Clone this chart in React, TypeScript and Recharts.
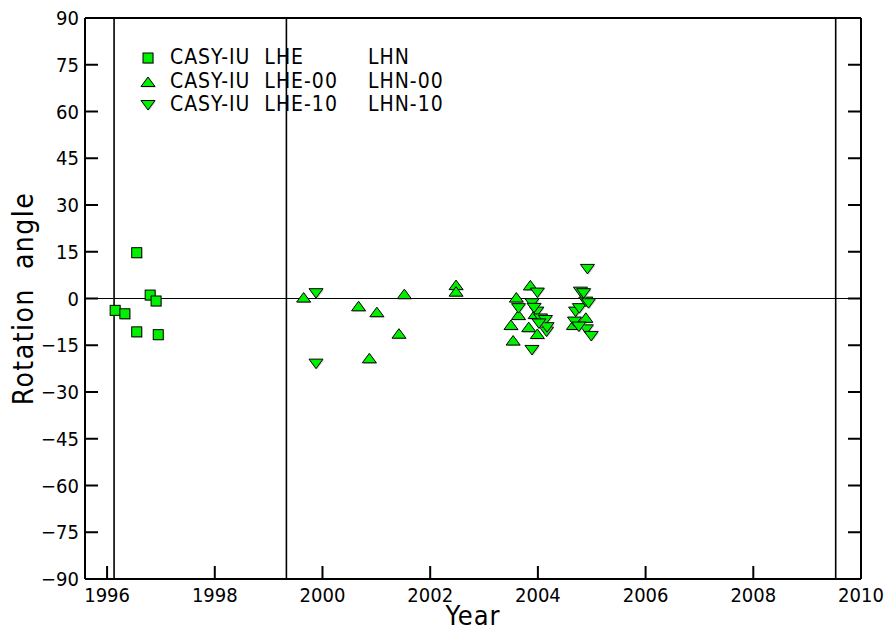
import {
  ScatterChart,
  Scatter,
  XAxis,
  YAxis,
  ReferenceLine,
  Legend,
} from 'recharts'

// station / sensor change dates (vertical lines)
const changeYears = [1996.13, 1999.33, 2009.53]

const xTicks = [1996, 1998, 2000, 2002, 2004, 2006, 2008, 2010]
const yTicks = [-90, -75, -60, -45, -30, -15, 0, 15, 30, 45, 60, 75, 90]

// CASY-IU LHE / LHN
const squareYears = [1996.15, 1996.33, 1996.55, 1996.55, 1996.8, 1996.91, 1996.95]
const squareAngles = [-3.8, -4.9, 14.7, -10.7, 1.1, -0.8, -11.6]

// CASY-IU LHE-00 / LHN-00
const upYears = [
  1999.65, 2000.67, 2000.87, 2001.01, 2001.42, 2001.52, 2002.48, 2002.48,
  2003.5, 2003.54, 2003.6, 2003.64, 2003.83, 2003.86, 2003.95, 2003.99,
  2004.66, 2004.89,
]
const upAngles = [
  0.3, -2.5, -19.2, -4.4, -11.3, 1.4, 4.3, 2.2,
  -8.5, -13.5, 0.3, -5.3, -9.2, 4.2, -5.0, -11.4,
  -8.5, -6.2,
]

// CASY-IU LHE-10 / LHN-10
const downYears = [
  1999.88, 1999.88,
  2003.64, 2003.89, 2003.89, 2003.98, 2003.99, 2004.05, 2004.14, 2004.16, 2004.17, 2004.02, 2003.93,
  2004.7, 2004.77, 2004.79, 2004.89, 2004.9, 2004.92, 2004.94, 2004.68, 2004.76, 2004.99, 2004.85,
]
const downAngles = [
  1.7, -20.9,
  -3.1, -1.5, -16.5, -4.2, 1.9, -6.4, -6.9, -10.6, -9.2, -8.0, -3.0,
  -4.2, -3.1, 2.2, -1.0, -9.9, 9.5, -1.5, -7.4, -9.0, -12.0, 1.7,
]

const zip = (xs: number[], ys: number[]) => xs.map((x, i) => ({ x, y: ys[i] }))

const GREEN = '#00f000'
const FONT = '"DejaVu Sans Condensed", "Liberation Sans", Arial, sans-serif'
const TICK_LEN = 13

const SquareShape = ({ cx, cy }: any) => (
  <g>
    <rect x={cx - 4} y={cy - 4} width={10} height={10} fill="#999" opacity={0.5} />
    <rect x={cx - 5} y={cy - 5} width={10} height={10} fill={GREEN} stroke="#000" strokeWidth={1} />
  </g>
)

const UpShape = ({ cx, cy }: any) => (
  <g>
    <polygon
      points={`${cx + 1},${cy - 4} ${cx + 8},${cy + 5.5} ${cx - 6},${cy + 5.5}`}
      fill="#999"
      opacity={0.5}
    />
    <polygon
      points={`${cx},${cy - 5} ${cx + 7},${cy + 4.5} ${cx - 7},${cy + 4.5}`}
      fill={GREEN}
      stroke="#000"
      strokeWidth={1}
    />
  </g>
)

const DownShape = ({ cx, cy }: any) => (
  <g>
    <polygon
      points={`${cx - 6},${cy - 3.5} ${cx + 8},${cy - 3.5} ${cx + 1},${cy + 6}`}
      fill="#999"
      opacity={0.5}
    />
    <polygon
      points={`${cx - 7},${cy - 4.5} ${cx + 7},${cy - 4.5} ${cx},${cy + 5}`}
      fill={GREEN}
      stroke="#000"
      strokeWidth={1}
    />
  </g>
)

const fmt = (v: number) => (v < 0 ? `\u2212${Math.abs(v)}` : `${v}`)

const BottomTick = ({ x, y, payload }: any) => (
  <g>
    <line x1={x} x2={x} y1={y} y2={y - TICK_LEN} stroke="#000" strokeWidth={2} />
    <text x={x} y={y + 23} textAnchor="middle" fontSize={20} fontFamily={FONT} fill="#000">
      {payload.value}
    </text>
  </g>
)

const TopTick = ({ x, y }: any) => (
  <line x1={x} x2={x} y1={y} y2={y + TICK_LEN} stroke="#000" strokeWidth={2} />
)

const LeftTick = ({ x, y, payload }: any) => (
  <g>
    <line x1={x} x2={x + TICK_LEN} y1={y} y2={y} stroke="#000" strokeWidth={2} />
    <text x={x - 6} y={y + 7} textAnchor="end" fontSize={20} fontFamily={FONT} fill="#000">
      {fmt(payload.value)}
    </text>
  </g>
)

const RightTick = ({ x, y }: any) => (
  <line x1={x} x2={x - TICK_LEN} y1={y} y2={y} stroke="#000" strokeWidth={2} />
)

const legendRows = [
  { shape: 'square', left: 'CASY-IU  LHE', right: 'LHN' },
  { shape: 'up', left: 'CASY-IU  LHE-00', right: 'LHN-00' },
  { shape: 'down', left: 'CASY-IU  LHE-10', right: 'LHN-10' },
]

const LegendIcon = ({ shape }: { shape: string }) => (
  <svg width={18} height={14} style={{ position: 'absolute', left: 0, top: 5 }}>
    {shape === 'square' && <SquareShape cx={8} cy={7} />}
    {shape === 'up' && <UpShape cx={8} cy={7} />}
    {shape === 'down' && <DownShape cx={8} cy={7} />}
  </svg>
)

const renderLegend = () => (
  <div style={{ position: 'relative', width: 340, fontFamily: FONT, fontSize: 21, color: '#000' }}>
    {legendRows.map((r) => (
      <div key={r.shape} style={{ position: 'relative', height: 23.5, whiteSpace: 'pre' }}>
        <LegendIcon shape={r.shape} />
        <span style={{ position: 'absolute', left: 30, top: -1, letterSpacing: 1 }}>{r.left}</span>
        <span style={{ position: 'absolute', left: 228, top: -1, letterSpacing: 1 }}>{r.right}</span>
      </div>
    ))}
  </div>
)

export default function App() {
  return (
    <div style={{ position: 'absolute', left: 0, top: 0, background: '#fff' }}>
      <ScatterChart width={892} height={633} margin={{ top: 17, right: 30, bottom: 0, left: 0 }}>
        <XAxis
          type="number"
          dataKey="x"
          domain={[1995.59, 2010]}
          ticks={xTicks}
          interval={0}
          allowDataOverflow
          height={54}
          tickSize={0}
          tickMargin={0}
          tickLine={false}
          axisLine={{ stroke: '#000', strokeWidth: 2 }}
          tick={<BottomTick />}
          label={{
            content: ({ viewBox }: any) => (
              <text
                x={viewBox.x + viewBox.width / 2}
                y={viewBox.y + 46}
                textAnchor="middle"
                fontSize={27}
                letterSpacing={1}
                fontFamily={FONT}
                fill="#000"
              >
                Year
              </text>
            ),
          }}
        />
        <XAxis
          xAxisId="top"
          orientation="top"
          type="number"
          domain={[1995.59, 2010]}
          ticks={xTicks}
          interval={0}
          allowDataOverflow
          height={1}
          tickSize={0}
          tickMargin={0}
          tickLine={false}
          axisLine={{ stroke: '#000', strokeWidth: 2 }}
          tick={<TopTick />}
        />
        <YAxis
          type="number"
          dataKey="y"
          domain={[-90, 90]}
          ticks={yTicks}
          interval={0}
          allowDataOverflow
          width={85}
          tickSize={0}
          tickMargin={0}
          tickLine={false}
          axisLine={{ stroke: '#000', strokeWidth: 2 }}
          tick={<LeftTick />}
          label={{
            content: ({ viewBox }: any) => {
              const cx = viewBox.x + 33
              const cy = viewBox.y + viewBox.height / 2
              return (
                <text
                  x={cx}
                  y={cy}
                  transform={`rotate(-90 ${cx} ${cy})`}
                  textAnchor="middle"
                  fontSize={28}
                  letterSpacing={1.5}
                  fontFamily={FONT}
                  fill="#000"
                  style={{ whiteSpace: 'pre' }}
                >
                  {'Rotation  angle'}
                </text>
              )
            },
          }}
        />
        <YAxis
          yAxisId="right"
          orientation="right"
          type="number"
          domain={[-90, 90]}
          ticks={yTicks}
          interval={0}
          allowDataOverflow
          width={1}
          tickSize={0}
          tickMargin={0}
          tickLine={false}
          axisLine={{ stroke: '#000', strokeWidth: 2 }}
          tick={<RightTick />}
        />
        <ReferenceLine y={0} stroke="#000" strokeWidth={1.2} />
        {changeYears.map((yr) => (
          <ReferenceLine key={yr} x={yr} stroke="#000" strokeWidth={1.6} />
        ))}
        <Legend
          content={renderLegend}
          layout="horizontal"
          verticalAlign="middle"
          align="center"
          wrapperStyle={{ left: 140, top: 46, width: 340 }}
        />
        <Scatter name="CASY-IU LHE LHN" data={zip(squareYears, squareAngles)} shape={<SquareShape />} isAnimationActive={false} />
        <Scatter name="CASY-IU LHE-00 LHN-00" data={zip(upYears, upAngles)} shape={<UpShape />} isAnimationActive={false} />
        <Scatter name="CASY-IU LHE-10 LHN-10" data={zip(downYears, downAngles)} shape={<DownShape />} isAnimationActive={false} />
      </ScatterChart>
    </div>
  )
}
